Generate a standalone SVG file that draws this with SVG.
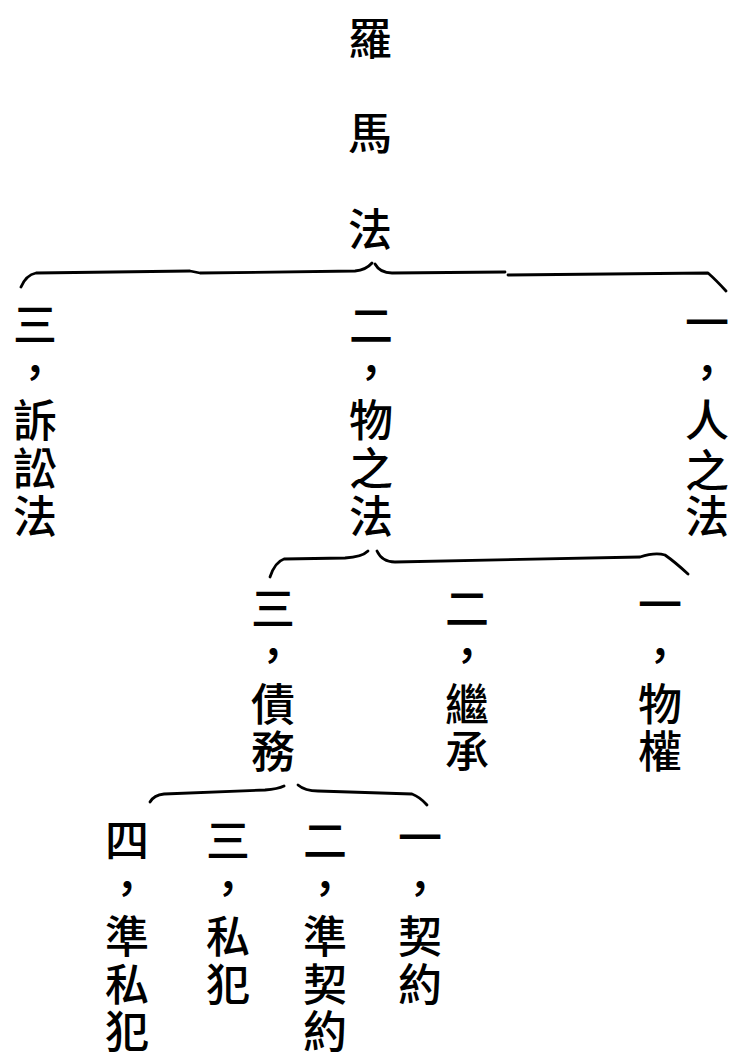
<svg xmlns="http://www.w3.org/2000/svg" width="736" height="1056" viewBox="0 0 736 1056">
<style>
.t{font-family:"Noto Sans CJK TC","Noto Sans CJK SC",sans-serif;font-size:44px;font-weight:500;fill:#000;text-anchor:middle}
.b{fill:none;stroke:#000;stroke-width:2.8;stroke-linecap:round;stroke-linejoin:round}
</style>
<rect width="736" height="1056" fill="#fff"/>
<g id="root"><text class="t"><tspan x="370" y="55">羅</tspan><tspan x="370" y="150">馬</tspan><tspan x="370" y="246">法</tspan></text></g>
<g id="connectors">
<path class="b" d="M21,287 Q26,275 36,273 L190,271 L200,273 L355,271 Q366,270 372,263"/>
<path class="b" d="M375,264 Q380,273 392,273 L505,272"/>
<path class="b" d="M508,275 L708,273 Q716,280 726,291"/>
<path class="b" d="M270,577 Q275,562 284,559 L345,558 Q362,557 368,551"/>
<path class="b" d="M377,551 Q382,562 395,562 L640,557 Q655,552 665,555 Q675,562 688,574"/>
<path class="b" d="M150,802 Q154,795 164,794 L265,790 Q278,789 284,786"/>
<path class="b" d="M298,785 Q305,791 318,791 L412,794 Q420,797 427,805"/>
</g>
<g id="n_litigation"><text class="t"><tspan x="35" y="341">三</tspan><tspan x="35" y="389">，</tspan><tspan x="35" y="437">訴</tspan><tspan x="35" y="485">訟</tspan><tspan x="35" y="533">法</tspan></text></g>
<g id="n_things"><text class="t"><tspan x="371" y="342">二</tspan><tspan x="371" y="389">，</tspan><tspan x="371" y="437">物</tspan><tspan x="371" y="485">之</tspan><tspan x="371" y="533">法</tspan></text></g>
<g id="n_persons"><text class="t"><tspan x="707" y="339">一</tspan><tspan x="707" y="389">，</tspan><tspan x="707" y="437">人</tspan><tspan x="707" y="487">之</tspan><tspan x="707" y="533">法</tspan></text></g>
<g id="n_obligations"><text class="t"><tspan x="273" y="625">三</tspan><tspan x="273" y="672">，</tspan><tspan x="273" y="721">債</tspan><tspan x="273" y="768">務</tspan></text></g>
<g id="n_succession"><text class="t"><tspan x="467" y="625">二</tspan><tspan x="467" y="672">，</tspan><tspan x="467" y="721">繼</tspan><tspan x="467" y="768">承</tspan></text></g>
<g id="n_property"><text class="t"><tspan x="660" y="621">一</tspan><tspan x="660" y="672">，</tspan><tspan x="660" y="721">物</tspan><tspan x="660" y="768">權</tspan></text></g>
<g id="n_quasidelict"><text class="t"><tspan x="127" y="857">四</tspan><tspan x="127" y="905">，</tspan><tspan x="127" y="953">準</tspan><tspan x="127" y="1001">私</tspan><tspan x="127" y="1048">犯</tspan></text></g>
<g id="n_delict"><text class="t"><tspan x="228" y="857">三</tspan><tspan x="228" y="905">，</tspan><tspan x="228" y="953">私</tspan><tspan x="228" y="1001">犯</tspan></text></g>
<g id="n_quasicontract"><text class="t"><tspan x="325" y="857">二</tspan><tspan x="325" y="905">，</tspan><tspan x="325" y="953">準</tspan><tspan x="325" y="1001">契</tspan><tspan x="325" y="1048">約</tspan></text></g>
<g id="n_contract"><text class="t"><tspan x="420" y="854">一</tspan><tspan x="420" y="905">，</tspan><tspan x="420" y="953">契</tspan><tspan x="420" y="1001">約</tspan></text></g>
</svg>
